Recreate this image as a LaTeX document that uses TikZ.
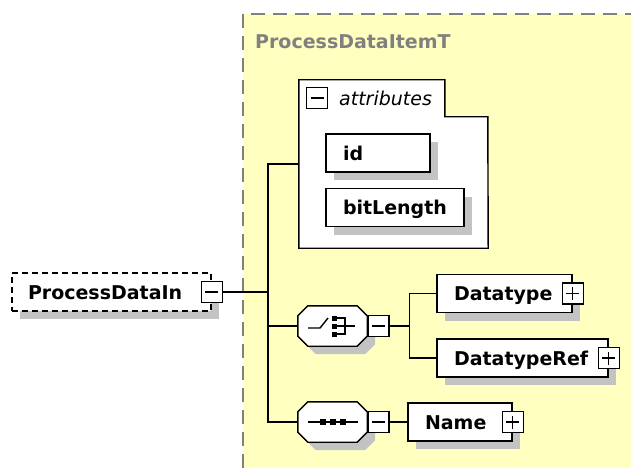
\documentclass[tikz,border=0pt]{standalone}
\usepackage{fontspec}
\setmainfont{DejaVu Sans}
\usetikzlibrary{shadows}
\definecolor{diagyellow}{RGB}{255,255,192}
\definecolor{shadowgray}{RGB}{195,195,195}
\definecolor{framegray}{RGB}{128,128,128}
\newcommand\elfont{\fontsize{19}{22}\selectfont}
\tikzset{
  elshadow/.style={drop shadow={shadow xshift=8pt,shadow yshift=-8pt,opacity=1,fill=shadowgray}},
  elem/.style={draw,line width=1.4pt,fill=white,elshadow,inner xsep=17pt,inner ysep=0pt,
    minimum height=38pt,align=left,text height=14pt,text depth=0pt,font=\elfont\bfseries},
  rootel/.style={elem,dash pattern=on 6pt off 4pt,inner xsep=16pt},
  octbox/.style={minimum width=69pt,minimum height=40pt,inner sep=0pt},
  octagon/.style={insert path={([xshift=10pt]#1.north west) -- ([xshift=-10pt]#1.north east)
    -- ([yshift=-10pt]#1.north east) -- ([yshift=10pt]#1.south east) -- ([xshift=-10pt]#1.south east)
    -- ([xshift=10pt]#1.south west) -- ([yshift=10pt]#1.south west) -- ([yshift=-10pt]#1.north west) -- cycle}},
  minusbox/.style={draw,line width=1.4pt,fill=white,minimum size=21pt,inner sep=0pt,
    path picture={\draw[line width=1.4pt] ([xshift=4pt]path picture bounding box.west) -- ([xshift=-4pt]path picture bounding box.east);}},
  plusbox/.style={draw,line width=1.4pt,fill=white,minimum size=21pt,inner sep=0pt,
    path picture={\draw[line width=1.4pt] ([xshift=4pt]path picture bounding box.west) -- ([xshift=-4pt]path picture bounding box.east);
      \draw[line width=1.4pt] ([yshift=4pt]path picture bounding box.south) -- ([yshift=-4pt]path picture bounding box.north);}},
  conn/.style={line width=1.4pt}
}
\begin{document}
\begin{tikzpicture}[x=1pt,y=-1pt]
\useasboundingbox (0,0) rectangle (631,468);
\fill[diagyellow] (243,14) rectangle (631,468);
\draw[framegray,line width=2pt,dash pattern=on 14pt off 8pt] (243,468) -- (243,14) -- (631,14);
\node[anchor=west,inner sep=0pt,text=framegray,font=\elfont\bfseries] (title) at (255,42) {ProcessDataItemT};

\node[rootel,text width=167pt] (root) at (111.5,292) {ProcessDataIn};
\node[minusbox] (rootm) at (root.east) {};

\node[minimum width=189pt,minimum height=168pt,inner sep=0pt] (attrs) at (393.5,164) {};
\draw[line width=1.4pt,fill=white] (attrs.south west) -- (attrs.north west) -- ++(146,0) -- ++(0,37) -- ++(43,0) -- (attrs.south east) -- cycle;
\node[minusbox] (attrm) at (317,98) {};
\node[anchor=west,inner sep=0pt,font=\elfont\itshape] (attrlbl) at (339,98) {attributes};
\node[elem,text width=70pt] (id) at (378,153) {id};
\node[elem,text width=104pt] (bitlen) at (395,207.5) {bitLength};

\node[octbox] (choice) at (332.5,326) {};
\node[octbox] (seq) at (332.5,422) {};
\foreach \oct in {choice,seq} {
  \begin{scope}[transform canvas={xshift=8pt,yshift=-8pt}]
  \fill[shadowgray,octagon=\oct];
  \end{scope}
  \draw[line width=1.4pt,fill=white,octagon=\oct];
}
\node[minusbox,anchor=west] (choicem) at (choice.east) {};
\node[minusbox,anchor=west] (seqm) at (seq.east) {};

\node[elem,text width=101pt] (dtype) at (504.5,293.5) {Datatype};
\node[plusbox] (dtypep) at (dtype.east) {};
\node[elem,text width=137pt] (dref) at (522.5,358) {DatatypeRef};
\node[plusbox] (drefp) at (dref.east) {};
\node[elem,text width=70pt] (name) at (460,422) {Name};
\node[plusbox] (namep) at (name.east) {};

\coordinate (trunk) at (268,292);
\draw[conn] (rootm.east) -- (trunk);
\draw[conn] (attrs.west) -| (trunk) |- (seq.west);
\draw[conn] (trunk |- choice.west) -- (choice.west);
\coordinate (fork) at ([xshift=20pt]choicem.east);
\draw[conn] (choicem.east) -- (fork);
\draw[conn] (dtype.west) -| (fork) |- (dref.west);
\draw[conn] (seqm.east) -- (name.west);

\begin{scope}[shift={(choice.center)},line width=1.4pt]
\draw (-24.5,2) -- (-12.5,2) -- (-4.5,-8);
\foreach \dy in {-8,0,8} \fill (-0.5,\dy-2.5) rectangle (4.5,\dy+2.5);
\draw (4.5,-8) -- (12.5,-8) -- (12.5,8) -- (4.5,8);
\draw (4.5,0) -- (22.5,0);
\end{scope}
\begin{scope}[shift={(seq.center)},line width=1.4pt]
\draw (-24.5,0) -- (25.5,0);
\foreach \dx in {-10,0,10} \fill (\dx-3,-3) rectangle (\dx+3,3);
\end{scope}
\end{tikzpicture}
\end{document}
